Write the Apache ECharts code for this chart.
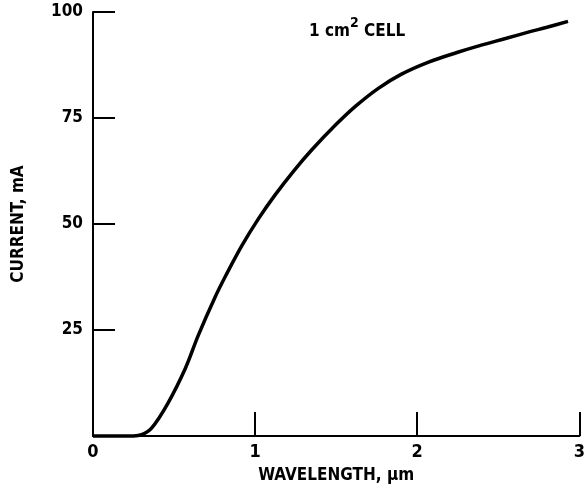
<!DOCTYPE html>
<html>
<head>
<meta charset="utf-8">
<script src="https://cdn.jsdelivr.net/npm/echarts@6/dist/echarts.min.js"></script>
<style>
html, body { margin: 0; padding: 0; background: #fff; }
#main { width: 588px; height: 489px; }
</style>
</head>
<body>
<div id="main"></div>
<script>
// wavelength in um, current in mA
const wavelength = [0, 0.25, 0.3, 0.36, 0.46, 0.57, 0.65, 0.75, 0.82, 0.92, 1.02, 1.12, 1.24, 1.35, 1.5,  1.62, 1.76, 1.9,  2.07, 2.25, 2.38, 2.55, 2.69, 2.8,  2.93]
const current    = [0, 0,    0.3, 1.8,  7.6,  16,   23.8, 32.5, 37.9, 45,   51.2, 56.7, 62.6, 67.5, 73.5, 77.8, 82,   85.3, 88.2, 90.5, 92,   93.8, 95.3, 96.4, 97.8]
const yTicks = [25, 50, 75, 100]
const xTicks = [0, 1, 2, 3]

const font = '"DejaVu Sans Condensed", sans-serif'
let myChart = echarts.init(document.getElementById('main'))

let option = {
    backgroundColor: '#fff',
    animation: false,
    grid: {left: 93, right: 6, top: 12, bottom: 51},
    xAxis: {
        type: 'value',
        min: 0, max: 3, interval: 1,
        name: 'WAVELENGTH, µm',
        nameLocation: 'middle',
        nameGap: 31,
        nameTextStyle: {color: '#000', fontFamily: font, fontSize: 17, fontWeight: 'bold'},
        axisLine: {lineStyle: {color: '#000', width: 2}},
        axisTick: {inside: true, length: 24, lineStyle: {color: '#000', width: 2}},
        axisLabel: {
            color: '#000', fontFamily: font, fontSize: 18, fontWeight: 'bold', margin: 7,
            formatter: v => xTicks.includes(v) ? String(v) : ''
        },
        splitLine: {show: false}
    },
    yAxis: {
        type: 'value',
        min: 0, max: 100, interval: 25,
        name: 'CURRENT, mA',
        nameLocation: 'middle',
        nameGap: 66,
        nameTextStyle: {color: '#000', fontFamily: font, fontSize: 17, fontWeight: 'bold'},
        axisLine: {show: true, lineStyle: {color: '#000', width: 2}},
        axisTick: {show: true, inside: true, length: 22, lineStyle: {color: '#000', width: 2}},
        axisLabel: {
            color: '#000', fontFamily: font, fontSize: 17, fontWeight: 'bold', margin: 10,
            formatter: v => yTicks.includes(v) ? String(v) : ''
        },
        splitLine: {show: false}
    },
    graphic: [
        {
            type: 'text',
            left: 309, top: 16,
            style: {
                text: '{n|1 cm}{s|2}{n| CELL}',
                rich: {
                    n: {fill: '#000', fontFamily: font, fontSize: 17, fontWeight: 'bold', verticalAlign: 'bottom', lineHeight: 24},
                    s: {fill: '#000', fontFamily: font, fontSize: 14, fontWeight: 'bold', verticalAlign: 'top', lineHeight: 24}
                }
            }
        }
    ],
    series: [
        {
            type: 'line',
            data: wavelength.map((w, i) => [w, current[i]]),
            smooth: 0.35,
            symbol: 'none',
            lineStyle: {color: '#000', width: 3.5},
            clip: false
        }
    ]
}

myChart.setOption(option)
</script>
</body>
</html>
